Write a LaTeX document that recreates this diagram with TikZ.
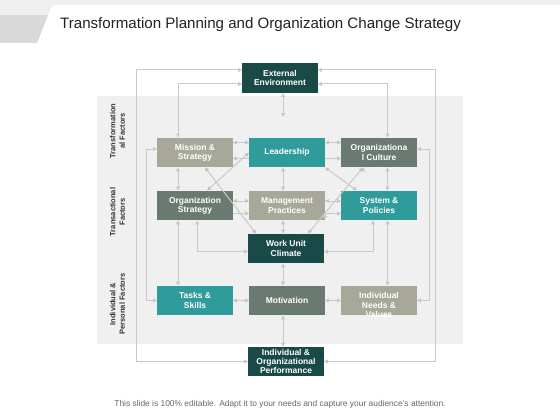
\documentclass[tikz,border=0pt]{standalone}
\usepackage{fontspec}
\setmainfont{Liberation Sans}
\usetikzlibrary{arrows.meta}
\definecolor{darkcol}{HTML}{1A4A47}
\definecolor{tealcol}{HTML}{2F9C9B}
\definecolor{sandcol}{HTML}{A7A79A}
\definecolor{sagecol}{HTML}{6A7A71}
\definecolor{linecol}{HTML}{C9C9C9}
\definecolor{panelcol}{HTML}{F0F0F0}
\definecolor{bandcol}{HTML}{EFEFEF}
\definecolor{tabcol}{HTML}{D9D9D9}
\definecolor{labelcol}{HTML}{333333}
\definecolor{titlecol}{HTML}{222222}
\definecolor{footcol}{HTML}{666666}
\begin{document}
\begin{tikzpicture}[x=1pt,y=-1pt,
  main node/.style={rectangle,text=white,font=\fontsize{8.5}{9.3}\selectfont\bfseries,align=center,minimum width=75.5pt,minimum height=29.5pt,inner sep=1pt},
  dark node/.style={main node,fill=darkcol},
  teal node/.style={main node,fill=tealcol},
  sand node/.style={main node,fill=sandcol},
  sage node/.style={main node,fill=sagecol},
  side node/.style={rotate=90,align=center,text=labelcol,font=\fontsize{7.5}{9.6}\selectfont\bfseries},
  link/.style={draw=linecol,line width=1pt},
  twoway/.style={link,{Triangle[length=4pt,width=4pt]}-{Triangle[length=4pt,width=4pt]}},
  oneway/.style={link,-{Triangle[length=4pt,width=4pt]}}]
  \useasboundingbox (0,0) rectangle (560,420);

  % header band and panel
  \fill[bandcol] (0,0) rectangle (560,43);
  \fill[white,rounded corners=4pt] (34.2,50) -- (52,5) -- (565,5) -- (565,50) -- cycle;
  \fill[tabcol] (0,15) -- (48,15) -- (37,43) -- (0,43) -- cycle;
  \fill[panelcol] (97,96) rectangle (463,344);

  \node[anchor=base west,inner sep=0,text=titlecol,font=\fontsize{15.1}{18}\selectfont] (15) at (60,28.5){Transformation Planning and Organization Change Strategy};

  \node[dark node] (0) at (280,78){External\\Environment};
  \node[sand node] (1) at (195,152.5){Mission \&\\Strategy};
  \node[teal node] (2) at (287,152.5){Leadership};
  \node[sage node] (3) at (379,152.5){Organizationa\\l Culture};
  \node[sage node] (4) at (195,205.5){Organization\\Strategy};
  \node[sand node] (5) at (287,205.5){Management\\Practices};
  \node[teal node] (6) at (379,205.5){System \&\\Policies};
  \node[dark node] (7) at (286,248.5){Work Unit\\Climate};
  \node[teal node] (8) at (195,300.5){Tasks \&\\Skills};
  \node[sage node] (9) at (287,300.5){Motivation};
  \node[sand node] (10) at (379,300.5){\raisebox{1.6pt}[0pt][0pt]{\parbox[t]{72pt}{\centering Individual\\Needs \&\\Values}}};
  \node[dark node] (11) at (286,361.5){Individual \&\\Organizational\\Performance};
  \coordinate (s) at (283,117);

  \node[side node] (12) at (117.5,131){Transformation\\al Factors};
  \node[side node] (13) at (117.5,212){Transactional\\Factors};
  \node[side node] (14) at (117.5,304){Individual \&\\Personal Factors};

  % loops round the panel
  \draw[twoway] ([yshift=8pt]0.west) -- ++(-106,0) |- (11.west);
  \draw[twoway] ([yshift=8pt]0.east) -- ++(118,0) |- (11.east);
  \draw[twoway] ([yshift=-6pt]0.west) -| ([xshift=-17pt]1.north);
  \draw[twoway] ([yshift=-6pt]0.east) -| ([xshift=8.5pt]3.north);
  \draw[twoway] ([xshift=3pt]0.south) -- (s);
  \draw[twoway] ([yshift=3.5pt]1.west) -- ++(-10.6,0) |- (8.west);
  \draw[twoway] ([yshift=3.5pt]3.east) -- ++(12.6,0) |- (10.east);
  \draw[twoway] ([xshift=2.3pt]4.south) |- ([yshift=-3pt]7.west);
  \draw[twoway] ([xshift=-6pt]6.south) |- ([yshift=-3pt]7.east);

  \path[twoway]
     ([yshift=10pt]1.east) edge ([yshift=10pt]2.west)
     ([yshift=10pt]2.east) edge ([yshift=10pt]3.west)
     ([yshift=4.5pt]4.east) edge ([yshift=4.5pt]5.west)
     ([yshift=4.5pt]5.east) edge ([yshift=4.5pt]6.west)
     (8.east) edge (9.west)
     (9.east) edge (10.west)
     ([xshift=-17pt]1.south) edge ([xshift=-17pt]4.north)
     ([xshift=-17pt]4.south) edge ([xshift=-17pt]8.north)
     ([xshift=8.5pt]3.south) edge ([xshift=8.5pt]6.north)
     ([xshift=8.5pt]6.south) edge ([xshift=8.5pt]10.north)
     ([xshift=-4pt]2.south) edge ([xshift=-4pt]2.south |- 5.north)
     ([xshift=-4pt]5.south) edge ([xshift=-4pt]5.south |- 7.north)
     ([xshift=-4pt]9.north) edge ([xshift=-4pt]9.north |- 7.south)
     ([xshift=-4pt]9.south) edge ([xshift=-4pt]9.south |- 11.north)
     (2.west) edge ([xshift=12pt]4.north)
     ([xshift=10pt]1.south) edge ([xshift=-30pt]7.north)
     (2.south east) edge ([xshift=-22pt]6.north)
     ([xshift=-16pt]3.south) edge ([xshift=22pt]7.north);

  \path[oneway]
     ([yshift=-6pt]2.west) edge ([yshift=-6pt]1.east)
     ([yshift=-6pt]2.east) edge ([yshift=-6pt]3.west)
     ([yshift=-8pt]4.east) edge ([yshift=-8pt]5.west)
     ([yshift=-8pt]5.east) edge ([yshift=-8pt]6.west);

  \node[anchor=base,inner sep=0,text=footcol,font=\fontsize{8.4}{10}\selectfont] (16) at (280,406.5){This slide is 100\% editable. Adapt it to your needs and capture your audience's attention.};
\end{tikzpicture}
\end{document}
